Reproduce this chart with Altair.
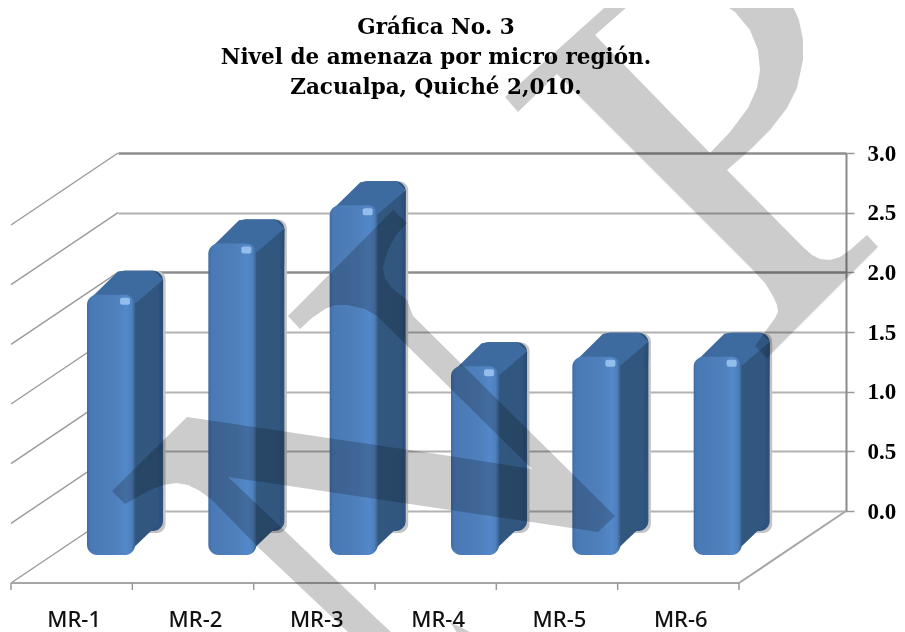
import altair as alt

CATEGORIES = ["MR-1", "MR-2", "MR-3", "MR-4", "MR-5", "MR-6"]
VALUES = [2.18, 2.61, 2.93, 1.58, 1.66, 1.66]
TICKS = [0, 0.5, 1, 1.5, 2, 2.5, 3]

TITLE = ["Gráfica No. 3", "Nivel de amenaza  por micro región.", "Zacualpa, Quiché 2,010."]

# watermark outline, read in picture pixels
WM1_X = [613, 505, 518, 557, 750, 765, 773, 777, 778, 775, 755, 767, 878, 867, 850, 840, 830, 820, 812, 803, 727, 750, 770, 787, 797, 803, 803, 799, 790, 717, 735, 750, 758, 760, 757, 748, 730, 710, 595, 635]
WM1_Y = [0, 97, 112, 74, 267, 283, 296, 305, 312, 318, 346, 358, 247, 235, 250, 257, 260, 259, 255, 247, 170, 150, 130, 108, 88, 60, 40, 20, 0, 0, 12, 30, 50, 70, 88, 108, 132, 153, 35, 0]
WM2_X = [393, 407, 396, 388, 383, 385, 392, 407, 413, 615, 598, 450, 228, 283, 377, 393, 350, 260, 212, 200, 188, 177, 163, 150, 125, 112, 187, 450, 532, 377, 365, 347, 335, 325, 312, 300, 288]
WM2_Y = [210, 223, 235, 250, 267, 278, 288, 300, 316, 516, 532, 510, 477, 529, 619, 634, 634, 549, 500, 491, 485, 483, 485, 490, 504, 491, 417, 456, 469, 316, 309, 305, 305, 309, 318, 329, 316]
WM3_X = [0, 10, 0]
WM3_Y = [622, 634, 634]
WM4_X = [450, 474, 458]
WM4_Y = [622, 634, 634]

W, H = 728, 358
LEFT, TOP = 110, 145
UX, UY = W / 6, H / 3
px = lambda v: (v - (LEFT + 8)) / UX
py = lambda v: 3 - (v - (TOP + 8)) / UY

DEPTH_X, DEPTH_Y = 107 / UX, 72 / UY
BAR_L, BAR_W, BAR_BASE = -0.2555, 0.396, -0.368
BAR_DX, BAR_DY = 28 / UX, 24 / UY
RX, RY = 9 / UX, 9 / UY

AXIS = alt.Axis(
    orient="right", values=TICKS, format=".1f", title=None, grid=True,
    gridColor={"condition": {"test": "datum.value == 3 || datum.value == 2", "value": "#8e8e8e"}, "value": "#b2b2b2"},
    gridWidth={"condition": {"test": "datum.value == 3 || datum.value == 2", "value": 2.5}, "value": 2},
    domainColor="#8a8a8a", domainWidth=2, tickColor="#999999", tickSize=8, tickWidth=1.5,
    labelFont="Liberation Serif", labelFontWeight="bold", labelFontSize=23, labelColor="black",
    labelPadding=13, labelFlush=False, labelBaseline="middle", labelOverlap=False)
X = alt.X("x:Q", scale=alt.Scale(domain=[0, 6], nice=False, zero=False), axis=None)
Y = alt.Y("y:Q", scale=alt.Scale(domain=[0, 3], nice=False, zero=False), axis=AXIS)


def grad(stops):
    return alt.Gradient(gradient="linear", x1=0, x2=1, y1=0, y2=0,
                        stops=[alt.GradientStop(color=c, offset=o) for o, c in stops])


FRONT = grad([(0, "#3f6ca4"), (0.08, "#4a7ab6"), (0.6, "#4f80bc"), (0.82, "#5388ca"),
              (0.93, "#4f80bc"), (0.99, "#3a6699"), (1, "#335c8c")])
SIDE = grad([(0, "#284a72"), (0.2, "#32587f"), (0.85, "#31567f"), (1, "#294a72")])

# ---------- tables ----------
front, back, shadow, spot, side, topf = [], [], [], [], [], []
for i, v in enumerate(VALUES):
    l = i + BAR_L
    r = l + BAR_W
    t = BAR_BASE + v
    b = BAR_BASE
    front.append(dict(x=l, x1=r, y=b, y1=t))
    back.append(dict(x=l + BAR_DX, x1=r + BAR_DX, y=b + BAR_DY, y1=t + BAR_DY))
    shadow.append(dict(x=l + BAR_DX, x1=r + BAR_DX + 2.5 / UX, y=b + BAR_DY - 2 / UY, y1=t + BAR_DY))
    spot.append(dict(x=r - 15 / UX, x1=r - 5 / UX, y=t - 3 / UY, y1=t - 10 / UY))
    s = [(r - RX, b), (r + BAR_DX - 0.3 * RX, b + BAR_DY + RY), (r + BAR_DX, t + BAR_DY - RY), (r, t - RY)]
    for o, (a, c) in enumerate(s):
        side.append(dict(id=i, o=o, x=a, y=c))
    q = [(l + 0.4 * RX, t - 0.4 * RY), (l + BAR_DX + 0.3 * RX, t + BAR_DY - 0.1 * RY), (l + BAR_DX + RX, t + BAR_DY),
         (r + BAR_DX - RX, t + BAR_DY), (r + BAR_DX, t + BAR_DY - RY), (r, t - RY), (r - RX, t)]
    for o, (a, c) in enumerate(q):
        topf.append(dict(id=i, o=o, x=a, y=c))

wall = [dict(x=0, y=t, x1=-DEPTH_X, y1=t - DEPTH_Y) for t in TICKS]
floor = [dict(x=-DEPTH_X, y=-DEPTH_Y, x1=6 - DEPTH_X, y1=-DEPTH_Y),
         dict(x=6, y=0, x1=6 - DEPTH_X, y1=-DEPTH_Y)]
fticks = [dict(x=k - DEPTH_X, y=-DEPTH_Y, y1=-DEPTH_Y - 7 / UY) for k in range(7)]
labels = [dict(x=i + 0.52 - DEPTH_X, y=py(620), t=c) for i, c in enumerate(CATEGORIES)]

wm = []
for n, (xs, ys) in enumerate([(WM1_X, WM1_Y), (WM2_X, WM2_Y), (WM3_X, WM3_Y), (WM4_X, WM4_Y)]):
    for o, (a, c) in enumerate(zip(xs, ys)):
        wm.append(dict(id=n, o=o, x=px(a), y=py(c)))

D = lambda rows: alt.Data(values=rows)

# ---------- layers ----------
wall_l = alt.Chart(D(wall)).mark_rule(color="#9a9a9a", strokeWidth=1.4).encode(x=X, y=Y, x2="x1:Q", y2="y1:Q")
floor_l = alt.Chart(D(floor)).mark_rule(color="#a6a6a6", strokeWidth=2).encode(x=X, y=Y, x2="x1:Q", y2="y1:Q")
fticks_l = alt.Chart(D(fticks)).mark_rule(color="#999999", strokeWidth=1.5).encode(x=X, y=Y, y2="y1:Q")

shadow_l = alt.Chart(D(shadow)).mark_bar(color="#c4c4c4", cornerRadius=9).encode(x=X, x2="x1:Q", y=Y, y2="y1:Q")
back_l = alt.Chart(D(back)).mark_bar(color="#2f5380", cornerRadius=10).encode(x=X, x2="x1:Q", y=Y, y2="y1:Q")
side_l = alt.Chart(D(side)).mark_line(fill=SIDE, stroke="#2f5380", strokeWidth=0).encode(
    x=X, y=Y, detail="id:N", order="o:Q")
top_l = alt.Chart(D(topf)).mark_line(fill="#3d6b9f", stroke="#3d6b9f", strokeWidth=0).encode(
    x=X, y=Y, detail="id:N", order="o:Q")
front_l = alt.Chart(D(front)).mark_bar(color=FRONT, cornerRadius=10).encode(x=X, x2="x1:Q", y=Y, y2="y1:Q")
spot_l = alt.Chart(D(spot)).mark_bar(color="#93bdea", cornerRadius=2).encode(x=X, x2="x1:Q", y=Y, y2="y1:Q")

label_l = alt.Chart(D(labels)).mark_text(font="Noto Sans", fontSize=22, fontWeight=500, color="#111111").encode(
    x=X, y=Y, text="t:N")

wm_l = alt.Chart(D(wm)).mark_line(fill="#cccccc", stroke="#cccccc", strokeWidth=0, blend="multiply").encode(
    x=X, y=Y, detail="id:N", order="o:Q")

chart = alt.layer(
    wall_l, floor_l, fticks_l, shadow_l, back_l, side_l, top_l, front_l, spot_l, label_l, wm_l
).properties(
    width=W, height=H,
    padding={"left": LEFT, "top": TOP, "right": 51, "bottom": 121},
    autosize=alt.AutoSizeParams(type="none"),
    background="white",
    title=alt.TitleParams(text=TITLE, anchor="middle", dx=-46, offset=-98, font="DejaVu Serif",
                          fontSize=21.5, fontWeight="bold", color="black", lineHeight=30),
).configure_view(stroke=None)

chart.save("out.html", embed_options={"renderer": "svg", "actions": False})
